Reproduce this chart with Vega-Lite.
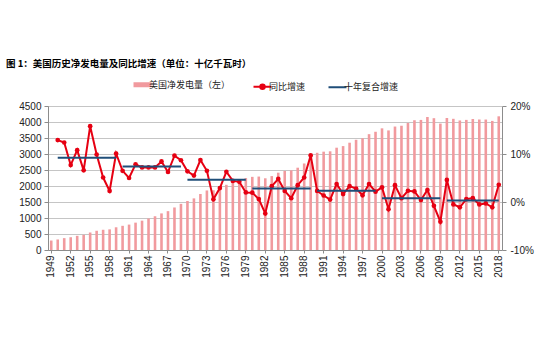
{
  "$schema": "https://vega.github.io/schema/vega-lite/v6.json",
  "width": 454,
  "height": 144,
  "autosize": "none",
  "padding": {"left": 48, "top": 106, "right": 48, "bottom": 110},
  "background": "white",
  "title": {
    "text": "图 1：美国历史净发电量及同比增速（单位：十亿千瓦时）",
    "anchor": "start",
    "frame": "group",
    "dx": -42,
    "offset": 12,
    "font": "Noto Sans CJK SC",
    "fontSize": 9.5,
    "fontWeight": "bold",
    "color": "#000000"
  },
  "config": {
    "view": {"stroke": null},
    "axis": {"labelFont": "Liberation Sans", "labelFontSize": 10, "labelColor": "#222222", "domainColor": "#8c8c8c", "tickColor": "#8c8c8c", "title": null},
    "legend": {"labelFont": "Noto Sans CJK SC", "labelFontSize": 9, "labelColor": "#222222"}
  },
  "data": {"values": [
    {"year": 1949, "gen": 296, "yoy": null, "cagr": null, "period": null},
    {"year": 1950, "gen": 329, "yoy": 12.9, "cagr": 9.2, "period": "p1"},
    {"year": 1951, "gen": 371, "yoy": 12.4, "cagr": 9.2, "period": "p1"},
    {"year": 1952, "gen": 399, "yoy": 7.7, "cagr": 9.2, "period": "p1"},
    {"year": 1953, "gen": 443, "yoy": 10.8, "cagr": 9.2, "period": "p1"},
    {"year": 1954, "gen": 472, "yoy": 6.6, "cagr": 9.2, "period": "p1"},
    {"year": 1955, "gen": 547, "yoy": 15.8, "cagr": 9.2, "period": "p1"},
    {"year": 1956, "gen": 601, "yoy": 9.9, "cagr": 9.2, "period": "p1"},
    {"year": 1957, "gen": 632, "yoy": 5.1, "cagr": 9.2, "period": "p1"},
    {"year": 1958, "gen": 645, "yoy": 2.3, "cagr": 9.2, "period": "p1"},
    {"year": 1959, "gen": 710, "yoy": 10.1, "cagr": 9.2, "period": "p1"},
    {"year": 1960, "gen": 756, "yoy": 6.5, "cagr": 7.4, "period": "p2"},
    {"year": 1961, "gen": 794, "yoy": 5.0, "cagr": 7.4, "period": "p2"},
    {"year": 1962, "gen": 855, "yoy": 7.85, "cagr": 7.4, "period": "p2"},
    {"year": 1963, "gen": 917, "yoy": 7.2, "cagr": 7.4, "period": "p2"},
    {"year": 1964, "gen": 984, "yoy": 7.2, "cagr": 7.4, "period": "p2"},
    {"year": 1965, "gen": 1055, "yoy": 7.2, "cagr": 7.4, "period": "p2"},
    {"year": 1966, "gen": 1144, "yoy": 8.45, "cagr": 7.4, "period": "p2"},
    {"year": 1967, "gen": 1214, "yoy": 6.25, "cagr": 7.4, "period": "p2"},
    {"year": 1968, "gen": 1329, "yoy": 9.65, "cagr": 7.4, "period": "p2"},
    {"year": 1969, "gen": 1442, "yoy": 8.7, "cagr": 7.4, "period": "p2"},
    {"year": 1970, "gen": 1532, "yoy": 6.4, "cagr": 4.65, "period": "p3"},
    {"year": 1971, "gen": 1613, "yoy": 5.5, "cagr": 4.65, "period": "p3"},
    {"year": 1972, "gen": 1750, "yoy": 8.75, "cagr": 4.65, "period": "p3"},
    {"year": 1973, "gen": 1861, "yoy": 6.5, "cagr": 4.65, "period": "p3"},
    {"year": 1974, "gen": 1867, "yoy": 0.55, "cagr": 4.65, "period": "p3"},
    {"year": 1975, "gen": 1918, "yoy": 2.9, "cagr": 4.65, "period": "p3"},
    {"year": 1976, "gen": 2038, "yoy": 6.3, "cagr": 4.65, "period": "p3"},
    {"year": 1977, "gen": 2124, "yoy": 4.4, "cagr": 4.65, "period": "p3"},
    {"year": 1978, "gen": 2206, "yoy": 4.2, "cagr": 4.65, "period": "p3"},
    {"year": 1979, "gen": 2247, "yoy": 2.0, "cagr": 4.65, "period": "p3"},
    {"year": 1980, "gen": 2286, "yoy": 1.95, "cagr": 2.8, "period": "p4"},
    {"year": 1981, "gen": 2295, "yoy": 0.6, "cagr": 2.8, "period": "p4"},
    {"year": 1982, "gen": 2241, "yoy": -2.4, "cagr": 2.8, "period": "p4"},
    {"year": 1983, "gen": 2310, "yoy": 3.3, "cagr": 2.8, "period": "p4"},
    {"year": 1984, "gen": 2416, "yoy": 4.8, "cagr": 2.8, "period": "p4"},
    {"year": 1985, "gen": 2470, "yoy": 2.3, "cagr": 2.8, "period": "p4"},
    {"year": 1986, "gen": 2487, "yoy": 0.8, "cagr": 2.8, "period": "p4"},
    {"year": 1987, "gen": 2572, "yoy": 3.5, "cagr": 2.8, "period": "p4"},
    {"year": 1988, "gen": 2704, "yoy": 5.1, "cagr": 2.8, "period": "p4"},
    {"year": 1989, "gen": 2967, "yoy": 9.7, "cagr": 2.8, "period": "p4"},
    {"year": 1990, "gen": 3038, "yoy": 2.3, "cagr": 2.35, "period": "p5"},
    {"year": 1991, "gen": 3073, "yoy": 1.35, "cagr": 2.35, "period": "p5"},
    {"year": 1992, "gen": 3084, "yoy": 0.5, "cagr": 2.35, "period": "p5"},
    {"year": 1993, "gen": 3197, "yoy": 3.75, "cagr": 2.35, "period": "p5"},
    {"year": 1994, "gen": 3247, "yoy": 1.65, "cagr": 2.35, "period": "p5"},
    {"year": 1995, "gen": 3353, "yoy": 3.3, "cagr": 2.35, "period": "p5"},
    {"year": 1996, "gen": 3444, "yoy": 2.8, "cagr": 2.35, "period": "p5"},
    {"year": 1997, "gen": 3492, "yoy": 1.4, "cagr": 2.35, "period": "p5"},
    {"year": 1998, "gen": 3620, "yoy": 3.75, "cagr": 2.35, "period": "p5"},
    {"year": 1999, "gen": 3695, "yoy": 2.15, "cagr": 2.35, "period": "p5"},
    {"year": 2000, "gen": 3802, "yoy": 3.05, "cagr": 0.8, "period": "p6"},
    {"year": 2001, "gen": 3737, "yoy": -1.5, "cagr": 0.8, "period": "p6"},
    {"year": 2002, "gen": 3858, "yoy": 3.5, "cagr": 0.8, "period": "p6"},
    {"year": 2003, "gen": 3883, "yoy": 0.8, "cagr": 0.8, "period": "p6"},
    {"year": 2004, "gen": 3971, "yoy": 2.35, "cagr": 0.8, "period": "p6"},
    {"year": 2005, "gen": 4055, "yoy": 2.2, "cagr": 0.8, "period": "p6"},
    {"year": 2006, "gen": 4065, "yoy": 0.4, "cagr": 0.8, "period": "p6"},
    {"year": 2007, "gen": 4157, "yoy": 2.5, "cagr": 0.8, "period": "p6"},
    {"year": 2008, "gen": 4119, "yoy": -0.8, "cagr": 0.8, "period": "p6"},
    {"year": 2009, "gen": 3950, "yoy": -4.1, "cagr": 0.8, "period": "p6"},
    {"year": 2010, "gen": 4125, "yoy": 4.6, "cagr": 0.3, "period": "p7"},
    {"year": 2011, "gen": 4100, "yoy": -0.5, "cagr": 0.3, "period": "p7"},
    {"year": 2012, "gen": 4048, "yoy": -1.1, "cagr": 0.3, "period": "p7"},
    {"year": 2013, "gen": 4066, "yoy": 0.6, "cagr": 0.3, "period": "p7"},
    {"year": 2014, "gen": 4094, "yoy": 0.8, "cagr": 0.3, "period": "p7"},
    {"year": 2015, "gen": 4078, "yoy": -0.5, "cagr": 0.3, "period": "p7"},
    {"year": 2016, "gen": 4077, "yoy": -0.3, "cagr": 0.3, "period": "p7"},
    {"year": 2017, "gen": 4034, "yoy": -1.1, "cagr": 0.3, "period": "p7"},
    {"year": 2018, "gen": 4178, "yoy": 3.6, "cagr": 0.3, "period": "p7"}
  ]},
  "encoding": {
    "x": {
      "field": "year", "type": "ordinal",
      "scale": {"paddingInner": 0.6, "paddingOuter": 0.3},
      "axis": {
        "values": [1949,1952,1955,1958,1961,1964,1967,1970,1973,1976,1979,1982,1985,1988,1991,1994,1997,2000,2003,2006,2009,2012,2015,2018],
        "labelAngle": -90, "labelAlign": "right", "labelBaseline": "middle",
        "ticks": true, "tickSize": 3, "labelPadding": 2
      }
    }
  },
  "layer": [
    {
      "mark": {"type": "bar", "color": "#F19A9E"},
      "encoding": {
        "y": {
          "field": "gen", "type": "quantitative",
          "scale": {"domain": [0, 4500], "nice": false},
          "axis": {"orient": "left", "format": "d", "values": [0,500,1000,1500,2000,2500,3000,3500,4000,4500], "grid": true, "gridColor": "#8a8a8a", "gridDash": [1, 1], "gridWidth": 1, "tickSize": 4, "labelPadding": 3}
        },
        "color": {
          "datum": "美国净发电量（左）",
          "scale": {"domain": ["美国净发电量（左）", "同比增速", "十年复合增速"], "range": ["#F19A9E", "#E60012", "#1F4E79"]},
          "legend": {
            "title": null,
            "orient": "none", "legendX": 90, "legendY": -26,
            "direction": "horizontal",
            "symbolType": "stroke", "symbolSize": 324, "symbolStrokeWidth": 2,
            "labelOffset": 2, "columnPadding": 18,
            "encode": {"symbols": {"update": {
              "shape": {"signal": "datum.value === '同比增速' ? 'M-1,0H1M0.25,0A0.25,0.25,0,1,1,-0.25,0A0.25,0.25,0,1,1,0.25,0Z' : 'stroke'"},
              "strokeWidth": {"signal": "datum.value === '美国净发电量（左）' ? 5 : 2"},
              "stroke": {"signal": "datum.value === '美国净发电量（左）' ? '#F19A9E' : (datum.value === '同比增速' ? '#E60012' : '#1F4E79')"},
              "fill": {"signal": "datum.value === '同比增速' ? '#E60012' : 'transparent'"},
              "opacity": {"value": 1}
            }}}
          }
        }
      }
    },
    {
      "layer": [
        {
          "mark": {"type": "line", "strokeWidth": 2, "color": "#E60012", "point": {"filled": true, "size": 22, "color": "#E60012"}},
          "encoding": {
            "y": {
              "field": "yoy", "type": "quantitative",
              "scale": {"domain": [-10, 20], "nice": false},
              "axis": {"orient": "right", "values": [-10,-5,0,5,10,15,20], "labelExpr": "datum.value + '%'", "grid": false, "tickSize": 4, "labelPadding": 4}
            },
            "color": {"datum": "同比增速"}
          }
        },
        {
          "mark": {"type": "line", "strokeWidth": 2, "color": "#1F4E79"},
          "encoding": {
            "y": {"field": "cagr", "type": "quantitative"},
            "detail": {"field": "period"},
            "color": {"datum": "十年复合增速"}
          }
        }
      ]
    }
  ],
  "resolve": {"scale": {"y": "independent"}}
}
